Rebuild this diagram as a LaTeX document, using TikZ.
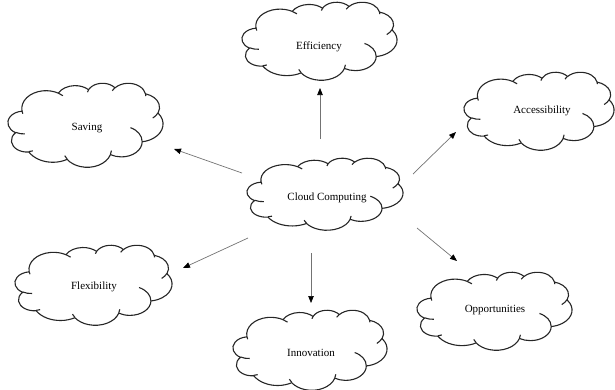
\documentclass[tikz,border=0pt]{standalone}
\usepackage{fontspec}
\setmainfont{Liberation Serif}
\usetikzlibrary{arrows.meta}

% one arc of the cloud outline; the cloud's path space is 43.2 x 43.2 units,
% radii are given in thousandths of a unit
\newcommand\carc[4]{arc[x radius={#1/1000}, y radius={#2/1000},
  start angle={vp(#3,#1/#2)}, delta angle={vp(#3+#4,#1/#2)-vp(#3,#1/#2)}]}

\newcommand\cloudoutline{%
  (3.900,14.370)
  \carc{6753}{9190}{-190.4875}{123.7805}
  \carc{5333}{7267}{-144.1024}{89.9452}
  \carc{4365}{5945}{-145.8079}{99.7230}
  \carc{4857}{6595}{-130.9861}{117.2417}
  \carc{5333}{7273}{-78.7089}{109.0269}
  \carc{6775}{9220}{-46.2673}{130.2690}
  \carc{5785}{7867}{0.6250}{114.0333}
  \carc{6752}{9215}{22.4516}{115.1726}
  \carc{7720}{10543}{66.2426}{75.7110}
  \carc{4360}{5918}{-274.9421}{146.7356}
  \carc{4345}{5945}{-246.8285}{152.5189}
  -- cycle}

\newcommand\cloudinner{%
  (4.693,26.177) \carc{4345}{5945}{86.7420}{26.4295}
  (6.928,34.899) \carc{4360}{5918}{73.6105}{11.4475}
  (16.478,39.090) \carc{6752}{9215}{137.6242}{14.0811}
  (28.827,34.751) \carc{6752}{9215}{6.4533}{15.9984}
  (34.129,22.954) \carc{5785}{7867}{-70.2924}{70.9174}
  (41.798,15.354) \carc{5333}{7273}{30.3180}{27.7515}
  (38.324,5.426) \carc{4857}{6595}{-13.7443}{14.8589}
  (29.078,3.952) \carc{4857}{6595}{-149.1815}{18.1954}
  (22.141,4.720) \carc{4365}{5945}{-163.4943}{17.6864}
  (14.000,5.192) \carc{6753}{9190}{-66.7070}{12.3194}
  (4.127,15.789) \carc{6753}{9190}{157.6544}{11.8582}}

% cloud with its top-left corner at (#1,#2), width #3, height #4
\newcommand\drawcloud[4]{%
  \pgfmathsetmacro\cloudux{#3/43.2}%
  \pgfmathsetmacro\clouduy{#4/43.2}%
  \begin{scope}[shift={(#1,#2)}, x=\cloudux pt, y=-\clouduy pt]
    \draw[cloudline, fill=white] \cloudoutline;
    \draw[cloudline] \cloudinner;
  \end{scope}}

\begin{document}
\begin{tikzpicture}[x=1pt, y=-1pt,
  declare function={vp(\ang,\rat)=\ang+mod(atan2(\rat*sin(\ang),cos(\ang))-\ang+540,360)-180;},
  cloudline/.style={line width=1.1pt, draw=black!85, line join=round},
  label/.style={inner sep=1pt, font=\fontsize{11}{13}\selectfont},
  link/.style={draw=black!55, line width=0.7pt,
    -{Triangle[length=7pt, width=5.5pt, color=black]}}]
  \useasboundingbox (0,0) rectangle (615,389);

  % clouds
  \drawcloud{242}{2}{155}{78}
  \drawcloud{247}{158}{156}{72}
  \drawcloud{8}{83}{155}{84}
  \drawcloud{464}{72}{150}{78}
  \drawcloud{15}{245}{157}{80}
  \drawcloud{233}{310}{154}{80}
  \drawcloud{417}{272}{155}{78}

  % labels
  \node[label] (eff) at (319,47) {Efficiency};
  \node[label] (cc)  at (327,198) {Cloud Computing};
  \node[label] (sav) at (87,128) {Saving};
  \node[label] (acc) at (542,111) {Accessibility};
  \node[label] (flx) at (94,287) {Flexibility};
  \node[label] (inn) at (311,353) {Innovation};
  \node[label] (opp) at (495,310) {Opportunities};

  % arrow end points
  \coordinate (effA) at (320,139); \coordinate (effB) at (320,88);
  \coordinate (savA) at (242,173); \coordinate (savB) at (174,149);
  \coordinate (accA) at (413,174); \coordinate (accB) at (456,132);
  \coordinate (oppA) at (417,228); \coordinate (oppB) at (457,261);
  \coordinate (flxA) at (248,238); \coordinate (flxB) at (183,268);
  \coordinate (innA) at (311,253); \coordinate (innB) at (311,303);

  \draw[link] (effA) -- (effB);
  \draw[link] (savA) -- (savB);
  \draw[link] (accA) -- (accB);
  \draw[link] (oppA) -- (oppB);
  \draw[link] (flxA) -- (flxB);
  \draw[link] (innA) -- (innB);
\end{tikzpicture}
\end{document}
